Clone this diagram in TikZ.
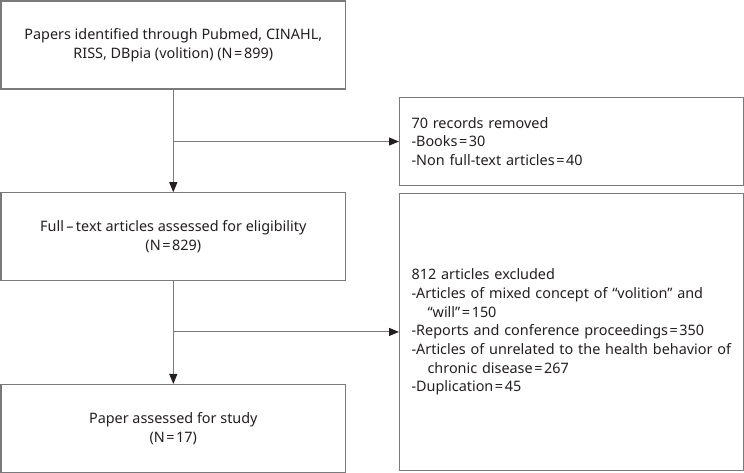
\documentclass[tikz,border=0pt]{standalone}
\usepackage{fontspec}
\setmainfont{Noto Sans}
\usetikzlibrary{arrows.meta,positioning}

\definecolor{boxgray}{HTML}{7A7A7C}
\definecolor{ink}{HTML}{231F20}
\newcommand\eqs{\kern1.2pt=\kern1.2pt}
\newcommand\cont{\hspace*{12pt}}

\begin{document}
\begin{tikzpicture}[
  x=0.75pt,y=-0.75pt,
  node distance=77pt and 40.5pt,
  font=\fontsize{10.8}{14}\selectfont,
  box/.style={draw=boxgray,line width=0.8pt,minimum width=258.4pt,minimum height=66pt,align=center,inner sep=0pt,text=ink},
  note/.style={draw=boxgray,line width=0.8pt,text width=240.1pt,inner xsep=9pt,inner ysep=0pt,align=left,anchor=north west,text=ink},
  flow/.style={draw=boxgray,line width=0.8pt,-{Triangle[length=7.5pt,width=6pt,color=ink]}}
]
  \useasboundingbox (0,0) rectangle (744,473);

  % left column
  \node[box,anchor=north west] (ident) at (0.5,0.5)
    {Papers identified through Pubmed, CINAHL,\\ RISS, DBpia (volition) (N\eqs 899)};
  \node[box,below=of ident] (full)
    {Full\,–\,text articles assessed for eligibility\\ (N\eqs 829)};
  \node[box,below=of full] (study)
    {Paper assessed for study\\ (N\eqs 17)};

  % right column
  \node[note,minimum height=66pt] (removed) at (399,97)
    {70 records removed\\
     -Books\eqs 30\\
     -Non full-text articles\eqs 40};
  \node[note,minimum height=207.6pt] (excluded) at (399,193)
    {812 articles excluded\\
     -Articles of mixed concept of “volition” and\\
     \cont“will”\eqs 150\\
     -Reports and conference proceedings\eqs 350\\
     -Articles of unrelated to the health behavior of\\
     \cont chronic disease\eqs 267\\
     -Duplication\eqs 45};

  \coordinate (j1) at (ident.south |- removed.west);
  \coordinate (j2) at (full.south |- excluded.west);

  \draw[flow] (ident) -- (full);
  \draw[flow] (full) -- (study);
  \draw[flow] (j1) -- (removed.west);
  \draw[flow] (j2) -- (excluded.west);
\end{tikzpicture}
\end{document}
